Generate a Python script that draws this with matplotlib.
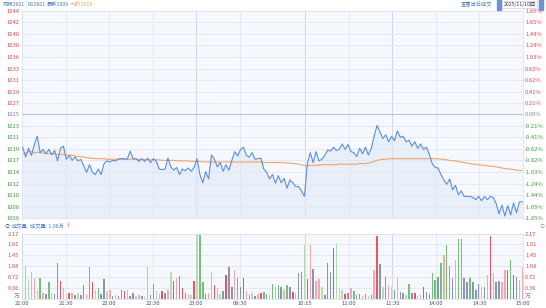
import numpy as np
import matplotlib
matplotlib.use('Agg')
import matplotlib.pyplot as plt

plt.rcParams['font.family'] = ['Noto Sans CJK SC', 'DejaVu Sans']

# ---- data ----
pre_close = 1025
pct_ticks = [-1.85, -1.65, -1.44, -1.24, -1.03, -0.82, -0.62, -0.41, -0.21, 0.0,
             0.21, 0.41, 0.62, 0.82, 1.03, 1.24, 1.44, 1.65, 1.85]
left_labels = ['1006', '1008', '1010', '1012', '1014', '1017', '1019', '1021', '1023', '1025',
               '1027', '1029', '1031', '1033', '1036', '1038', '1040', '1042', '1044']
right_labels = ['-1.85%', '-1.65%', '-1.44%', '-1.24%', '-1.03%', '-0.82%', '-0.62%', '-0.41%',
                '-0.21%', '0.00%', '0.21%', '0.41%', '0.62%', '0.82%', '1.03%', '1.24%',
                '1.44%', '1.65%', '1.85%']

time_ticks = [0, 30, 60, 90, 120, 150, 195, 225, 255, 285, 315, 345]
time_labels = ['21:00', '21:30', '22:00', '22:30', '23:00', '09:30', '10:15', '11:00',
               '11:30', '14:00', '14:30', '15:00']
session_breaks = [120, 195, 255]

step_min = 2  # one sample every 2 minutes

price = [
    1019.0, 1017.2, 1018.8, 1017.5, 1019.5, 1021.0, 1018.0, 1018.6, 1017.8, 1018.6,
    1017.6, 1018.4, 1016.5, 1018.8, 1019.2, 1016.8, 1017.5, 1016.6, 1017.2, 1016.5,
    1016.8, 1015.6, 1014.4, 1015.8, 1014.4, 1014.0, 1015.0, 1014.0, 1016.0, 1016.5,
    1016.3, 1016.6, 1016.5, 1016.9, 1016.9, 1016.9, 1016.8, 1018.3, 1016.9, 1016.9,
    1016.4, 1016.9, 1016.4, 1017.0, 1016.2, 1016.9, 1016.4, 1015.0, 1014.9, 1015.0,
    1017.0, 1015.4, 1014.8, 1015.3, 1014.0, 1015.0, 1014.7, 1015.2, 1014.6, 1015.3,
    1016.9, 1014.0, 1012.5, 1014.5, 1013.2, 1017.6, 1016.8, 1015.4, 1016.2, 1014.6,
    1015.8, 1014.8, 1016.6, 1018.2, 1017.4, 1018.6, 1019.0, 1017.5, 1017.2, 1018.0,
    1016.8, 1016.9, 1017.0, 1015.0, 1014.4, 1013.2, 1014.0, 1012.4, 1013.8, 1012.5,
    1013.3, 1011.5, 1013.0, 1012.5, 1011.8, 1011.8, 1011.0, 1010.0, 1016.0, 1018.0,
    1016.2, 1018.2, 1016.5, 1016.8, 1017.5, 1018.5, 1018.3, 1019.0, 1018.4, 1018.6,
    1019.6, 1018.6, 1019.5, 1018.2, 1018.0, 1017.3, 1018.8, 1017.8, 1019.0, 1017.6,
    1018.8, 1021.0, 1023.0, 1021.8, 1020.6, 1021.3, 1020.0, 1021.0, 1020.2, 1022.0,
    1020.8, 1021.0, 1020.0, 1020.3, 1019.2, 1020.0, 1018.8, 1019.6, 1018.6, 1019.0,
    1017.7, 1016.0, 1015.3, 1015.2, 1014.0, 1013.0, 1012.2, 1013.2, 1011.2, 1012.0,
    1010.3, 1011.0, 1010.0, 1010.0, 1010.0, 1009.8, 1009.4, 1010.0, 1009.2, 1010.0,
    1009.4, 1010.0, 1009.8, 1008.7, 1006.8, 1008.4, 1006.4, 1008.3, 1006.6, 1008.8,
    1007.0, 1009.0, 1009.0]

avg_price = [
    1017.7, 1017.9, 1018.2, 1018.2, 1018.0, 1018.1, 1018.0, 1017.9, 1017.9, 1017.8,
    1017.8, 1017.8, 1017.7, 1017.7, 1017.7, 1017.6, 1017.6, 1017.5, 1017.4, 1017.3,
    1017.3, 1017.2, 1017.1, 1017.0, 1017.0, 1016.9, 1016.9, 1016.9, 1016.9, 1016.8,
    1016.8, 1016.8, 1016.8, 1016.8, 1016.8, 1016.8, 1016.8, 1016.8, 1016.8, 1016.8,
    1016.8, 1016.8, 1016.7, 1016.7, 1016.7, 1016.7, 1016.7, 1016.7, 1016.6, 1016.6,
    1016.6, 1016.6, 1016.6, 1016.5, 1016.5, 1016.5, 1016.5, 1016.5, 1016.4, 1016.4,
    1016.4, 1016.4, 1016.3, 1016.3, 1016.3, 1016.3, 1016.3, 1016.3, 1016.3, 1016.3,
    1016.3, 1016.3, 1016.3, 1016.3, 1016.3, 1016.3, 1016.3, 1016.3, 1016.3, 1016.3,
    1016.3, 1016.3, 1016.3, 1016.2, 1016.2, 1016.2, 1016.2, 1016.2, 1016.2, 1016.2,
    1016.2, 1016.1, 1016.1, 1016.0, 1016.0, 1015.9, 1015.8, 1015.6, 1015.6, 1015.7,
    1015.7, 1015.7, 1015.7, 1015.8, 1015.8, 1015.8, 1015.8, 1015.8, 1015.8, 1015.9,
    1015.9, 1015.9, 1015.9, 1015.9, 1015.9, 1015.9, 1016.0, 1016.0, 1016.0, 1016.1,
    1016.2, 1016.4, 1016.6, 1016.7, 1016.8, 1016.8, 1016.9, 1016.9, 1016.9, 1016.9,
    1016.9, 1016.9, 1016.9, 1016.9, 1016.9, 1016.9, 1016.9, 1016.9, 1016.9, 1016.9,
    1016.9, 1016.9, 1016.9, 1016.9, 1016.8, 1016.8, 1016.7, 1016.6, 1016.5, 1016.5,
    1016.4, 1016.3, 1016.2, 1016.1, 1016.0, 1015.9, 1015.9, 1015.8, 1015.7, 1015.7,
    1015.6, 1015.5, 1015.5, 1015.4, 1015.3, 1015.2, 1015.1, 1015.0, 1015.0, 1014.9,
    1014.8, 1014.8, 1014.7]

# volume in 万 (10k lots)
volume = [
    2.3, 1.1, 0.65, 0.88, 0.7, 0.3, 0.7, 0.2, 0.15, 0.55,
    0.2, 0.15, 1.2, 0.6, 0.35, 0.15, 0.2, 0.2, 0.12, 0.2,
    0.12, 0.45, 0.15, 1.05, 0.55, 0.3, 0.35, 0.15, 0.65, 0.25,
    0.3, 0.1, 0.12, 0.08, 0.3, 0.25, 0.3, 0.1, 0.2, 0.1,
    0.12, 0.1, 0.08, 1.05, 0.12, 0.5, 0.25, 0.15, 0.25, 0.2,
    0.3, 0.9, 0.6, 0.7, 0.75, 0.35, 0.2, 0.15, 0.12, 0.6,
    2.15, 2.25, 0.55, 0.15, 0.2, 0.9, 0.45, 0.35, 0.15, 0.25,
    0.8, 1.05, 0.4, 0.95, 0.67, 0.4, 0.67, 0.25, 0.12, 0.2,
    0.1, 0.15, 0.2, 0.22, 0.15, 0.12, 0.5, 0.4, 0.45, 0.4,
    0.28, 0.45, 0.4, 0.23, 0.17, 0.85, 0.9, 1.8, 0.65, 1.8,
    1.0, 0.6, 0.65, 0.4, 0.12, 1.2, 0.9, 1.7, 1.85, 0.35,
    0.3, 0.15, 0.2, 0.35, 0.25, 0.12, 0.15, 0.1, 0.15, 0.1,
    0.12, 0.95, 2.08, 1.15, 0.39, 0.73, 0.45, 0.39, 0.28, 0.67,
    0.22, 0.17, 0.12, 0.5, 0.17, 0.17, 0.1, 0.12, 0.39, 0.23,
    0.15, 0.85, 0.62, 0.73, 1.2, 1.45, 1.78, 1.1, 0.67, 1.3,
    2.0, 1.97, 0.67, 0.56, 0.67, 0.56, 0.3, 0.5, 0.39, 0.39,
    0.78, 2.08, 0.84, 0.56, 0.6, 0.56, 0.95, 0.95, 1.3, 0.78,
    0.73, 0.62, 1.05]
# R red, p pink, G green, g light green, k gray
vol_kind = ('GpgppgGpkG' 'pkkRpgRpkg' 'kkpGRgGkkg' 'pkpkkRpkkg' 'pkgpkkgpRk'
            'pgRpkRkpgR' 'gGGkppRpgk' 'RkkpGkRpkg' 'kpRGkpGpGk' 'pGkRpkkgRp'
            'kppgkkkRgg' 'gRkpGkkpkg' 'kpRkgkpgkp' 'kkgGkRppRk' 'kGGkGpGGkp'
            'GGkkGkkkpk' 'pRpkkppRGR' 'kpp')
vol_ticks = [0, 0.36, 0.72, 1.08, 1.45, 1.81, 2.17]
vol_labels = ['万', '0.36', '0.72', '1.08', '1.45', '1.81', '2.17']

# ---- styling ----
kind_color = {'R': '#e8555c', 'p': '#f4a9ad', 'G': '#74c074', 'g': '#b7dcb1', 'k': '#8a96ab'}
up_col, down_col, flat_col = '#e0474f', '#3f9a3f', '#7c8594'
grid_col, grid_dark = '#e3e9f4', '#cdd8ec'
bg = '#f6f8fd'
fs = 4.2
hfs = 3.8

W, H = 546, 308
fig = plt.figure(figsize=(W / 100, H / 100), dpi=100, facecolor='white')

def frac(x0, y0, x1, y1):
    return [x0 / W, 1 - y1 / H, (x1 - x0) / W, (y1 - y0) / H]

x = np.arange(len(price)) * step_min + 0.5
ymin, ymax = pre_close * (1 - 0.0185), pre_close * (1 + 0.0185)
price_ticks = [pre_close * (1 + p / 100) for p in pct_ticks]

# ---- price panel ----
ax = fig.add_axes(frac(22, 11, 523, 218))
ax.set_facecolor(bg)
ax.set_xlim(0, 345)
ax.set_ylim(ymin, ymax)
for t in time_ticks:
    ax.axvline(t, color=grid_dark if t in session_breaks else grid_col, lw=0.7, zorder=0)
for t, p in zip(price_ticks, pct_ticks):
    ax.axhline(t, color='#b9c0cc' if p == 0 else grid_col, lw=0.7, zorder=0)
ax.fill_between(x, price, ymin, color='#dfe8f7', alpha=0.55, lw=0, zorder=1)
ax.plot(x, price, color='#5a8ee0', lw=0.8, zorder=3)
ax.plot(x, avg_price, color='#f0a46a', lw=0.8, zorder=2)

ax.set_yticks(price_ticks)
ax.set_yticklabels(left_labels)
ax.set_xticks([])
ax.tick_params(axis='y', length=0, labelsize=fs, pad=2)
for lab, p in zip(ax.get_yticklabels(), pct_ticks):
    lab.set_color(up_col if p > 0 else (down_col if p < 0 else flat_col))
for s in ax.spines.values():
    s.set_color('#dbe3f0')
    s.set_linewidth(0.6)

ax_r = ax.twinx()
ax_r.set_ylim(ymin, ymax)
ax_r.set_yticks(price_ticks)
ax_r.set_yticklabels(right_labels)
ax_r.tick_params(axis='y', length=0, labelsize=fs, pad=1.5)
for lab, p in zip(ax_r.get_yticklabels(), pct_ticks):
    lab.set_color(up_col if p > 0 else (down_col if p < 0 else flat_col))
for s in ax_r.spines.values():
    s.set_visible(False)

# ---- volume panel ----
axv = fig.add_axes(frac(22, 233.5, 523, 298.5))
axv.set_facecolor(bg)
axv.set_xlim(0, 345)
axv.set_ylim(0, 2.17)
for t in time_ticks:
    axv.axvline(t, color=grid_dark if t in session_breaks else grid_col, lw=0.7, zorder=0)
for t in vol_ticks:
    axv.axhline(t, color=grid_col, lw=0.7, zorder=0)
axv.bar(x, volume, width=1.0, color=[kind_color[k] for k in vol_kind], lw=0, zorder=2)
axv.set_yticks(vol_ticks)
axv.set_yticklabels(vol_labels)
axv.set_xticks(time_ticks)
axv.set_xticklabels(time_labels)
axv.tick_params(axis='y', length=0, labelsize=fs, pad=2, colors=up_col)
axv.tick_params(axis='x', length=0, labelsize=fs, pad=1.5, colors='#4d5566')
for s in axv.spines.values():
    s.set_color('#dbe3f0')
    s.set_linewidth(0.6)

axv_r = axv.twinx()
axv_r.set_ylim(0, 2.17)
axv_r.set_yticks(vol_ticks)
axv_r.set_yticklabels(vol_labels)
axv_r.tick_params(axis='y', length=0, labelsize=fs, pad=1.5, colors=up_col)
for s in axv_r.spines.values():
    s.set_visible(False)
for a in (axv, axv_r):
    lab0 = a.get_yticklabels()[0]
    lab0.set_color('#7c8594')
    lab0.set_verticalalignment('bottom')

# ---- header texts ----
hy = 1 - 4.5 / H
fig.text(3 / W, hy, '郑棉2601', fontsize=hfs, color='#4a78c8', va='center')
fig.text(27 / W, hy, 'FG2601', fontsize=hfs, color='#4a78c8', va='center')
fig.text(47 / W, hy, '最新1009', fontsize=hfs, color='#4a78c8', va='center')
fig.text(71 / W, hy, '均价1015', fontsize=hfs, color='#e8a050', va='center')
fig.text(492 / W, hy, '查看当日成交', fontsize=hfs, color='#4a78c8', va='center', ha='right')
fig.text(519.5 / W, hy, '2025/11/10四', fontsize=3.7, color='#333333', va='center', ha='center',
         bbox=dict(boxstyle='square,pad=0.25', fc='white', ec='#c8d0dc', lw=0.5))
for bx in (499, 541):
    fig.patches.append(plt.Rectangle((bx / W - 0.0045, hy - 0.017), 0.009, 0.034,
                                     transform=fig.transFigure, color='#6d93d6'))

vy = 1 - 227 / H
fig.text(7 / W, vy, '⊙', fontsize=hfs, color='#3a4252', va='center', ha='center')
fig.text(12 / W, vy, '成交量', fontsize=hfs, color='#4a78c8', va='center')
fig.text(30 / W, vy, '成交量: 1.06万', fontsize=hfs, color='#4a78c8', va='center')
fig.text(66 / W, vy, '↑', fontsize=hfs, color='#e0474f', va='center')
fig.text(542 / W, vy, '⊙', fontsize=hfs, color='#8a8f99', va='center', ha='center')

fig.savefig('out.png', dpi=100, facecolor=fig.get_facecolor())
plt.close(fig)
